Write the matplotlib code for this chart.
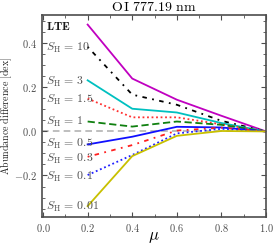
import matplotlib
matplotlib.use("Agg")
import matplotlib.pyplot as plt
from matplotlib.ticker import MultipleLocator

plt.rcParams['mathtext.fontset'] = 'cm'
plt.rcParams['font.family'] = ['DejaVu Serif']

mu = [0.2, 0.4, 0.6, 0.8, 1.0]
labels = [r'$\mathbf{LTE}$', r'$S_\mathrm{H}\,=\,10$', r'$S_\mathrm{H}\,=\,3$', r'$S_\mathrm{H}\,=\,1.5$',
          r'$S_\mathrm{H}\,=\,1$', r'$S_\mathrm{H}\,=\,0.5$', r'$S_\mathrm{H}\,=\,0.3$',
          r'$S_\mathrm{H}\,=\,0.1$', r'$S_\mathrm{H}\,=\,0.01$']
lte = [0.485, 0.24, 0.144, 0.071, 0.0]
sh10 = [0.384, 0.167, 0.121, 0.048, 0.0]
sh3 = [0.232, 0.103, 0.086, 0.038, 0.0]
sh15 = [0.149, 0.064, 0.064, 0.032, 0.0]
sh1 = [0.045, 0.022, 0.045, 0.030, 0.0]
sh05 = [-0.059, -0.024, 0.021, 0.018, 0.0]
sh03 = [-0.115, -0.062, 0.004, 0.017, 0.0]
sh01 = [-0.198, -0.107, -0.009, 0.012, 0.0]
sh001 = [-0.339, -0.112, -0.02, 0.002, 0.0]
label_y = [0.476, 0.38, 0.226, 0.144, 0.045, -0.059, -0.124, -0.206, -0.342]

fig = plt.figure(figsize=(2.74, 2.44), dpi=100)
ax = fig.add_axes([0.153, 0.111, 0.818, 0.828])

ax.axhline(0, color='0.7', ls=(0, (4, 2.5)), lw=1.2, zorder=1)
series = [lte, sh10, sh3, sh15, sh1, sh05, sh03, sh01, sh001]
styles = [
    dict(color='#c000c0', ls='-'),
    dict(color='black', ls=(0, (1, 3, 2.5, 3))),
    dict(color='#00c0c0', ls='-'),
    dict(color='#ff3030', ls=(0, (1, 1.5))),
    dict(color='#108010', ls=(0, (4, 2))),
    dict(color='#1010ff', ls='-'),
    dict(color='#ff2020', ls=(0, (1, 3, 2.5, 3))),
    dict(color='#2020ff', ls=(0, (1, 1.5))),
    dict(color='#c8c000', ls='-'),
]
for s, st in zip(series, styles):
    ax.plot(mu, s, lw=1.3, **st, zorder=2)

for lab, y in zip(labels, label_y):
    ax.text(0.015, y, lab, fontsize=8.5, color='0.3' if 'LTE' not in lab else '0.1',
            va='center', ha='left')

ax.set_xlim(-0.005, 1.0)
ax.set_ylim(-0.388, 0.529)
ax.xaxis.set_major_locator(MultipleLocator(0.2))
ax.xaxis.set_minor_locator(MultipleLocator(0.1))
ax.yaxis.set_major_locator(MultipleLocator(0.2))
ax.yaxis.set_minor_locator(MultipleLocator(0.05))
ax.tick_params(which='both', direction='in', top=True, right=True, labelsize=7.5,
               labelcolor='0.3', color='0.3')
ax.tick_params(which='major', length=3.5)
ax.tick_params(which='minor', length=2)
ax.set_xticks([0.0, 0.2, 0.4, 0.6, 0.8, 1.0])
ax.set_xticklabels([r'$%.1f$' % v for v in [0.0, 0.2, 0.4, 0.6, 0.8, 1.0]])
ax.set_yticks([-0.2, 0.0, 0.2, 0.4])
ax.set_yticklabels([r'$-0.2$', r'$0.0$', r'$0.2$', r'$0.4$'])
for sp in ax.spines.values():
    sp.set_linewidth(1.2)
    sp.set_color('0.3')

ax.set_xlabel(r'$\mu$', fontsize=12, labelpad=-4)
ax.set_ylabel(r'$\mathrm{Abundance\ difference\ [dex]}$', fontsize=7.2, color='0.15', labelpad=0)
ax.set_title(r'$\mathrm{O\,I\ 777.19\ nm}$', fontsize=10, pad=3)

fig.savefig('out.png', dpi=100)
